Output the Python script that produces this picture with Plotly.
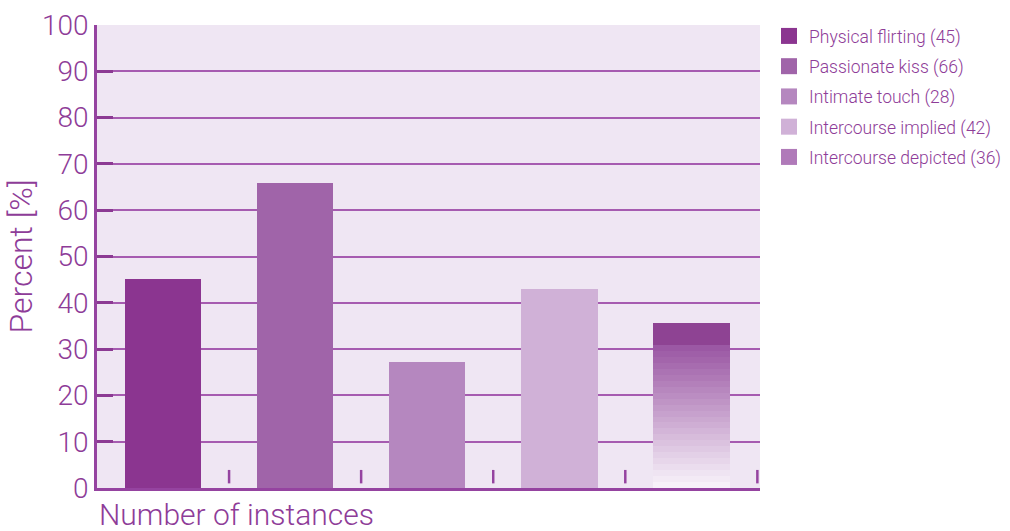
import plotly.graph_objects as go

# ---- data ----
categories = ["Physical flirting", "Passionate kiss", "Intimate touch",
              "Intercourse implied", "Intercourse depicted"]
counts = [45, 66, 28, 42, 36]
percents = [45.2, 65.8, 27.2, 43.0, 35.7]
bar_colors = ["#8b3590", "#a064a9", "#b587bf", "#d0b1d7", "#8e4393"]
y_ticks = [0, 10, 20, 30, 40, 50, 60, 70, 80, 90, 100]

TEXT = "#8e3c98"
AXIS = "#9543a0"
GRID = "#a65bb0"
BG = "#efe6f3"
FONT = "Roboto, Lato, sans-serif"

fig = go.Figure()

n = len(categories)
xs = [i + 0.5 for i in range(n)]
width = 0.58

# solid bars (first four)
for i in range(n - 1):
    fig.add_trace(go.Bar(x=[xs[i]], y=[percents[i]], width=width,
                         marker=dict(color=bar_colors[i], line=dict(width=0)),
                         showlegend=False, hoverinfo="skip"))

# gradient bar (last one): dark top band, then fading bands overlaid
gi = n - 1
val = percents[gi]
fig.add_trace(go.Bar(x=[xs[gi]], y=[val], width=width,
                     marker=dict(color=bar_colors[gi], line=dict(width=0)),
                     showlegend=False, hoverinfo="skip"))


def lerp(c1, c2, t):
    a = [int(c1[k:k + 2], 16) for k in (1, 3, 5)]
    b = [int(c2[k:k + 2], 16) for k in (1, 3, 5)]
    return "#%02x%02x%02x" % tuple(round(a[j] + (b[j] - a[j]) * t) for j in range(3))


bands = 24
top_frac = 0.865
for k in range(bands):
    frac = top_frac * (bands - k) / bands
    t = k / (bands - 1)
    fig.add_trace(go.Bar(x=[xs[gi]], y=[val * frac], width=width,
                         marker=dict(color=lerp("#9b58a4", "#f7f1f9", t), line=dict(width=0)),
                         showlegend=False, hoverinfo="skip"))

# legend entries
legend_colors = ["#8b3590", "#a064a9", "#b587bf", "#d0b1d7", "#b07ab9"]
for i in range(n):
    fig.add_trace(go.Scatter(x=[None], y=[None], mode="markers",
                             name=f"{categories[i]} ({counts[i]})",
                             legendgroup=f"g{i}",
                             marker=dict(symbol="square", size=18, color=legend_colors[i],
                                         line=dict(width=0))))

# boundary tick marks between categories
for b in range(1, n + 1):
    fig.add_shape(type="line", x0=b, x1=b, y0=1.0, y1=3.9, xref="x", yref="y",
                  line=dict(color=AXIS, width=2.5), layer="above")

fig.update_layout(
    width=1010, height=531,
    margin=dict(l=97, r=250, t=25, b=43, autoexpand=False),
    paper_bgcolor="white", plot_bgcolor=BG,
    barmode="overlay", bargap=0,
    font=dict(family=FONT, color=TEXT),
    showlegend=True,
    legend=dict(xref="container", yref="container", x=0.7614, xanchor="left",
                y=0.966, yanchor="top",
                font=dict(size=17.5, color=TEXT, family=FONT, weight=300),
                tracegroupgap=4.5, itemsizing="trace",
                bgcolor="rgba(0,0,0,0)"),
    xaxis=dict(range=[0, 5.02], showgrid=False, zeroline=False,
               showticklabels=False, ticks="",
               showline=True, linecolor=AXIS, linewidth=2.5, fixedrange=True),
    yaxis=dict(range=[0, 100], tickvals=y_ticks, ticks="inside", ticklen=16,
               tickwidth=2.5, tickcolor="#8c3a93",
               showgrid=True, gridcolor=GRID, gridwidth=1.5, zeroline=False,
               showline=True, linecolor=AXIS, linewidth=2.5,
               tickfont=dict(size=28, color=TEXT, family=FONT, weight=300),
               title=dict(text="Percent [%]",
                          font=dict(size=32, color=TEXT, family=FONT, weight=300),
                          standoff=0)),
    annotations=[dict(text="Number of instances", xref="paper", yref="paper",
                      x=0, y=-0.016, xanchor="left", yanchor="top", showarrow=False,
                      font=dict(size=30, color=TEXT, family=FONT, weight=300))],
)

fig.write_html("out.html")
